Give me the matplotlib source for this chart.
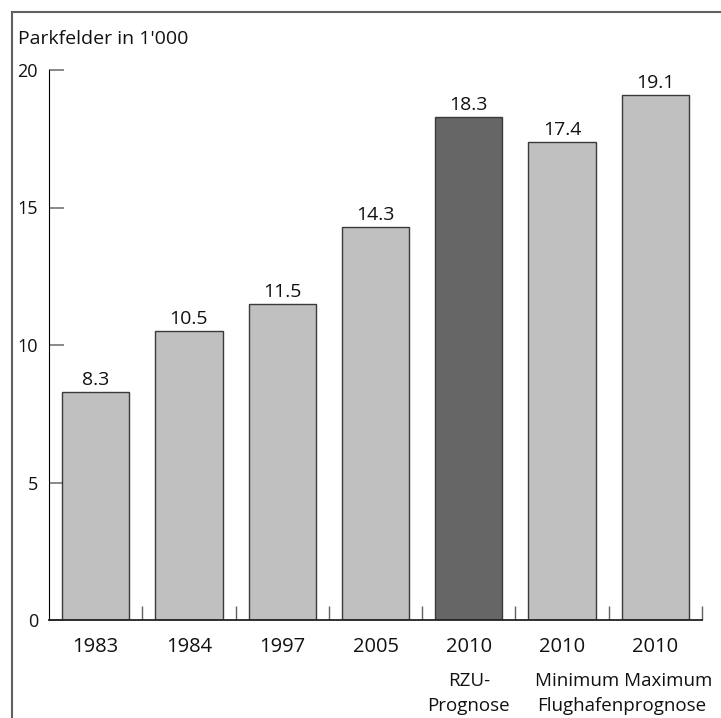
import matplotlib
matplotlib.use('Agg')
import matplotlib.pyplot as plt
from matplotlib.lines import Line2D
import numpy as np

plt.rcParams['font.family'] = ['Open Sans', 'DejaVu Sans']

# Parkfelder (in 1'000) per year / forecast
years = ['1983', '1984', '1997', '2005', '2010', '2010', '2010']
values = [8.3, 10.5, 11.5, 14.3, 18.3, 17.4, 19.1]
colors = ['#c0c0c0', '#c0c0c0', '#c0c0c0', '#c0c0c0', '#666666', '#c0c0c0', '#c0c0c0']
y_ticks = [0, 5, 10, 15, 20]

fig = plt.figure(figsize=(7.21, 7.18), dpi=100)
W, H = 721, 718
ax = fig.add_axes([49 / W, 1 - 620 / H, (702 - 49) / W, (620 - 70) / H])

x = np.arange(len(values))
ax.bar(x, values, width=0.72, color=colors, edgecolor='#3a3a3a', linewidth=1.0, zorder=2)

ax.set_xlim(-0.5, len(values) - 0.5)
ax.set_ylim(0, 20)

# value labels on top of the bars
for xi, v in zip(x, values):
    ax.annotate(f'{v:.1f}', (xi, v), xytext=(0, 5), textcoords='offset points',
                ha='center', va='baseline', fontsize=14, color='#111111')

# y axis: ticks pointing inwards, grey
ax.set_yticks(y_ticks)
ax.tick_params(axis='y', direction='in', length=11, width=1.3, color='#808080',
               pad=8, labelsize=13, labelcolor='#111111')

# x axis: small separators between the bars
ax.set_xticks(np.arange(0.5, len(values), 1.0))
ax.set_xticklabels([])
ax.tick_params(axis='x', direction='in', length=10, width=1.0, color='#606060')

lab = dict(ha='center', va='center', fontsize=14.5, color='#111111')
sub = dict(lab, fontsize=13.5)
for xi, yr in zip(x, years):
    ax.text(xi, -1.0, yr, **lab)
ax.text(4, -2.22, 'RZU-', **sub)
ax.text(4, -3.12, 'Prognose', **sub)
ax.text(5.66, -2.22, 'Minimum Maximum', **sub)
ax.text(5.64, -3.12, 'Flughafenprognose', **sub)

ax.spines['top'].set_visible(False)
ax.spines['right'].set_visible(False)
ax.spines['left'].set_color('black')
ax.spines['bottom'].set_color('#222222')
ax.spines['bottom'].set_linewidth(1.3)

fig.text(18 / W, 1 - 39 / H, "Parkfelder in 1'000", ha='left', va='center',
         fontsize=14, color='#111111')

# frame around the graphic (left and top)
fig.add_artist(Line2D([12 / W, 12 / W], [0, 1 - 12 / H], color='#606060', linewidth=1.5))
fig.add_artist(Line2D([12 / W, 1], [1 - 12 / H, 1 - 12 / H], color='#606060', linewidth=1.5))

fig.savefig('out.png', dpi=100)
